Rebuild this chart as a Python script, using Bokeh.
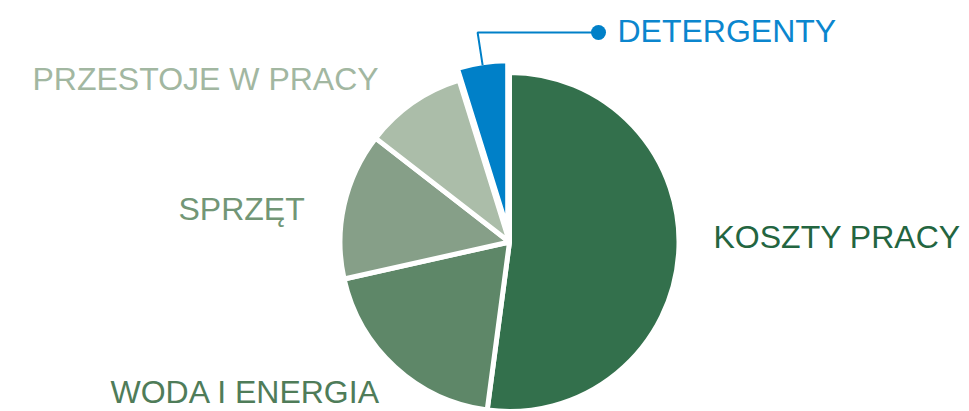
import numpy as np
from bokeh.plotting import figure
from bokeh.models import ColumnDataSource, Range1d
from bokeh.core.properties import value
from bokeh.embed import file_html
from bokeh.resources import INLINE

# ---- data ----
categories = ["KOSZTY PRACY", "WODA I ENERGIA", "SPRZĘT", "PRZESTOJE W PRACY", "DETERGENTY"]
shares = [52.1, 19.4, 14.0, 9.7, 4.8]
slice_colors = ["#33704c", "#5e8768", "#869f88", "#abbda9", "#0080c8"]
label_colors = ["#236540", "#4f7c59", "#729676", "#a2b7a1", "#0b86ce"]
explode = [0, 0, 0, 0, 12]

# ---- layout ----
W, H = 969, 411
CX, CY = 509, H - 241.5
R = 169.5
# label anchors (left, vertical middle of capitals) in screen pixels
label_x = [713, 110, 178, 32, 617]
label_y = [236, 391, 208, 78, 30]

vals = np.array(shares, dtype=float)
frac = vals / vals.sum()
cum = np.concatenate([[0], np.cumsum(frac)])
start = np.pi / 2 - cum[:-1] * 2 * np.pi
end = np.pi / 2 - cum[1:] * 2 * np.pi
mid = (start + end) / 2
cx = CX + np.array(explode) * np.cos(mid)
cy = CY + np.array(explode) * np.sin(mid)

src = ColumnDataSource(dict(x=cx, y=cy, start=start, end=end, color=slice_colors))

p = figure(width=W, height=H, x_range=Range1d(0, W), y_range=Range1d(0, H),
           output_backend="svg", toolbar_location=None, min_border=0,
           x_axis_type=None, y_axis_type=None)
p.grid.visible = False
p.outline_line_color = None
p.background_fill_color = "white"
p.border_fill_color = "white"

p.wedge(x="x", y="y", radius=R, start_angle="start", end_angle="end",
        direction="clock", fill_color="color", line_color="white",
        line_width=5, source=src)

# callout for the exploded slice
i = 4
rv = R - 2.5
sx = cx[i] + rv * np.cos(mid[i])
sy = cy[i] + rv * np.sin(mid[i])
elbow_y = H - 32
elbow_x = sx - 5
dot_x = 598
p.line(x=[sx, elbow_x, dot_x], y=[sy, elbow_y, elbow_y], line_color=slice_colors[i], line_width=2)
p.scatter(x=[dot_x], y=[elbow_y], size=15, marker="circle",
          fill_color=slice_colors[i], line_color=None)

tsrc = ColumnDataSource(dict(x=label_x, y=[H - v for v in label_y], text=categories, color=label_colors))
p.text(x="x", y="y", text="text", text_color="color", source=tsrc,
       text_font=value("Liberation Sans"), text_font_size="32px",
       text_baseline="middle", text_align="left")

open("out.html", "w").write(file_html(p, INLINE))
